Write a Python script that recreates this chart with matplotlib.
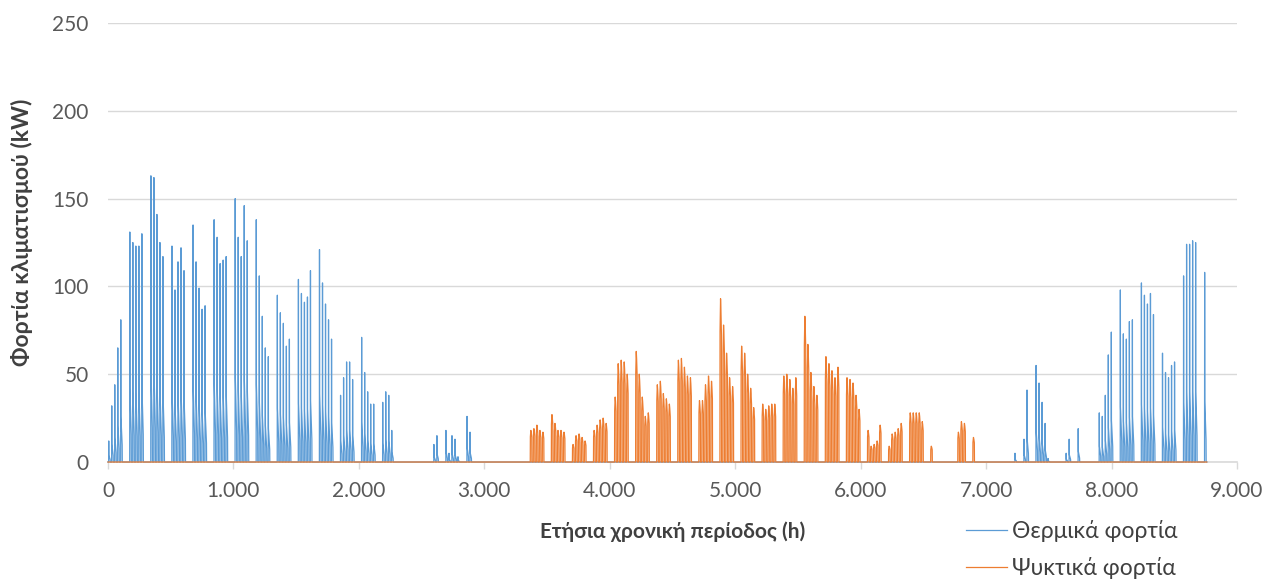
import numpy as np
import matplotlib
matplotlib.use("Agg")
import matplotlib.pyplot as plt
from matplotlib.ticker import FuncFormatter

# Daily peak loads (kW) of the five working days of each week
heat_spring_first_week = 0
heat_spring_peaks = [
    [12, 32, 44, 65, 81],
    [131, 125, 123, 123, 130],
    [163, 162, 141, 125, 117],
    [123, 98, 114, 122, 109],
    [135, 114, 99, 87, 89],
    [138, 128, 113, 115, 117],
    [150, 128, 117, 146, 126],
    [138, 106, 83, 65, 60],
    [95, 85, 79, 66, 70],
    [104, 96, 91, 94, 109],
    [121, 102, 90, 81, 70],
    [38, 48, 57, 57, 47],
    [71, 51, 40, 33, 33],
    [34, 40, 38, 18, 0],
    [0, 0, 0, 0, 0],
    [0, 0, 0, 10, 15],
    [18, 5, 15, 13, 3],
    [26, 17, 0, 0, 0],
]

heat_autumn_first_week = 43
heat_autumn_peaks = [
    [5, 0, 0, 13, 41],
    [55, 45, 34, 22, 2],
    [0, 0, 0, 5, 13],
    [19, 0, 0, 0, 0],
    [28, 26, 38, 61, 74],
    [98, 73, 70, 80, 81],
    [102, 95, 90, 96, 84],
    [62, 51, 48, 55, 57],
    [106, 124, 124, 126, 125],
    [108],
]

cool_first_week = 20
cool_peaks = [
    [18, 19, 21, 18, 17],
    [27, 22, 18, 18, 17],
    [10, 15, 16, 14, 12],
    [18, 21, 24, 25, 22],
    [37, 56, 58, 57, 50],
    [63, 50, 37, 26, 28],
    [44, 46, 39, 36, 33],
    [58, 59, 54, 49, 48],
    [35, 35, 44, 49, 46],
    [93, 78, 62, 48, 43],
    [66, 62, 50, 42, 31],
    [33, 30, 32, 33, 33],
    [49, 50, 47, 42, 48],
    [83, 67, 51, 43, 38],
    [60, 56, 52, 48, 54],
    [48, 47, 45, 38, 30],
    [18, 9, 10, 12, 21],
    [9, 16, 17, 19, 22],
    [28, 28, 28, 28, 23],
    [9, 0, 0, 0, 0],
    [0, 0, 17, 23, 22],
    [14, 0, 0, 0, 0],
]

# Hourly shape of a working day, as a fraction of that day's peak
heat_day_profile = [0, 0, 0, 0, 0, 0,
                    1.0, 0.32, 0.30, 0.27, 0.25, 0.23,
                    0.21, 0.20, 0.18, 0.16, 0.14, 0.12,
                    0, 0, 0, 0, 0, 0]
cool_day_profile = [0, 0, 0, 0, 0, 0, 0,
                    0.80, 0.85, 0.90, 0.95, 1.0, 0.98,
                    0.96, 0.93, 0.90, 0.86, 0.82, 0.78,
                    0, 0, 0, 0, 0]

xtick_values = [0, 1000, 2000, 3000, 4000, 5000, 6000, 7000, 8000, 9000]
ytick_values = [0, 50, 100, 150, 200, 250]

HOURS = 8760
heat_color = "#5B9BD5"
cool_color = "#ED7D31"


def hourly_series(blocks):
    """Spread weekly lists of daily peaks over the hours of the year."""
    load = np.zeros(HOURS)
    for first_week, peaks, profile in blocks:
        prof = np.asarray(profile, dtype=float)
        for w, week in enumerate(peaks):
            for d, p in enumerate(week):
                start = ((first_week + w) * 7 + d) * 24
                seg = load[start:start + 24]
                seg[:] = np.maximum(seg, p * prof[:len(seg)])
    return load


heating = hourly_series([
    (heat_spring_first_week, heat_spring_peaks, heat_day_profile),
    (heat_autumn_first_week, heat_autumn_peaks, heat_day_profile),
])
cooling = hourly_series([(cool_first_week, cool_peaks, cool_day_profile)])
hours = np.arange(HOURS)

plt.rcParams["font.family"] = ["Lato", "Open Sans", "DejaVu Sans"]

fig = plt.figure(figsize=(12.69, 5.83), dpi=100)
ax = fig.add_axes([0.0851, 0.2075, 0.8897, 0.7530])

ax.plot(hours, heating, color=heat_color, lw=0.9, label="Θερμικά φορτία",
        clip_on=False, zorder=3)
ax.plot(hours, cooling, color=cool_color, lw=0.9, label="Ψυκτικά φορτία",
        clip_on=False, zorder=3.1)

ax.set_xlim(0, 9000)
ax.set_ylim(0, 250)
ax.set_xticks(xtick_values)
ax.set_yticks(ytick_values)
ax.xaxis.set_major_formatter(FuncFormatter(lambda v, _: f"{v:,.0f}".replace(",", ".")))

grid_color = "#D9D9D9"
ax.grid(axis="y", color=grid_color, lw=1)
ax.set_axisbelow(True)
for side in ("top", "right", "left"):
    ax.spines[side].set_visible(False)
ax.spines["bottom"].set_color(grid_color)
ax.spines["bottom"].set_linewidth(1.2)

ax.tick_params(axis="y", length=0, pad=14, labelsize=15, labelcolor="#595959")
ax.tick_params(axis="x", length=5, width=1, color=grid_color, pad=9,
               labelsize=15, labelcolor="#595959")

ax.set_xlabel("Ετήσια χρονική περίοδος (h)", fontsize=15, fontweight="bold",
              color="#404040")
ax.xaxis.set_label_coords(0.5, -0.159)
ax.xaxis.label.set_va("center")
ax.set_ylabel("Φορτία κλιματισμού (kW)", fontsize=16.5, fontweight="bold",
              color="#404040")
ax.yaxis.set_label_coords(-0.0762, 0.524)
ax.yaxis.label.set_va("center")

leg = ax.legend(loc="center left", bbox_to_anchor=(0.752, 0.0575),
                bbox_transform=fig.transFigure, frameon=False, fontsize=16.5,
                handlelength=1.8, handletextpad=0.2, labelspacing=0.65,
                borderpad=0)
for t in leg.get_texts():
    t.set_color("#404040")

fig.savefig("out.png", dpi=100)
